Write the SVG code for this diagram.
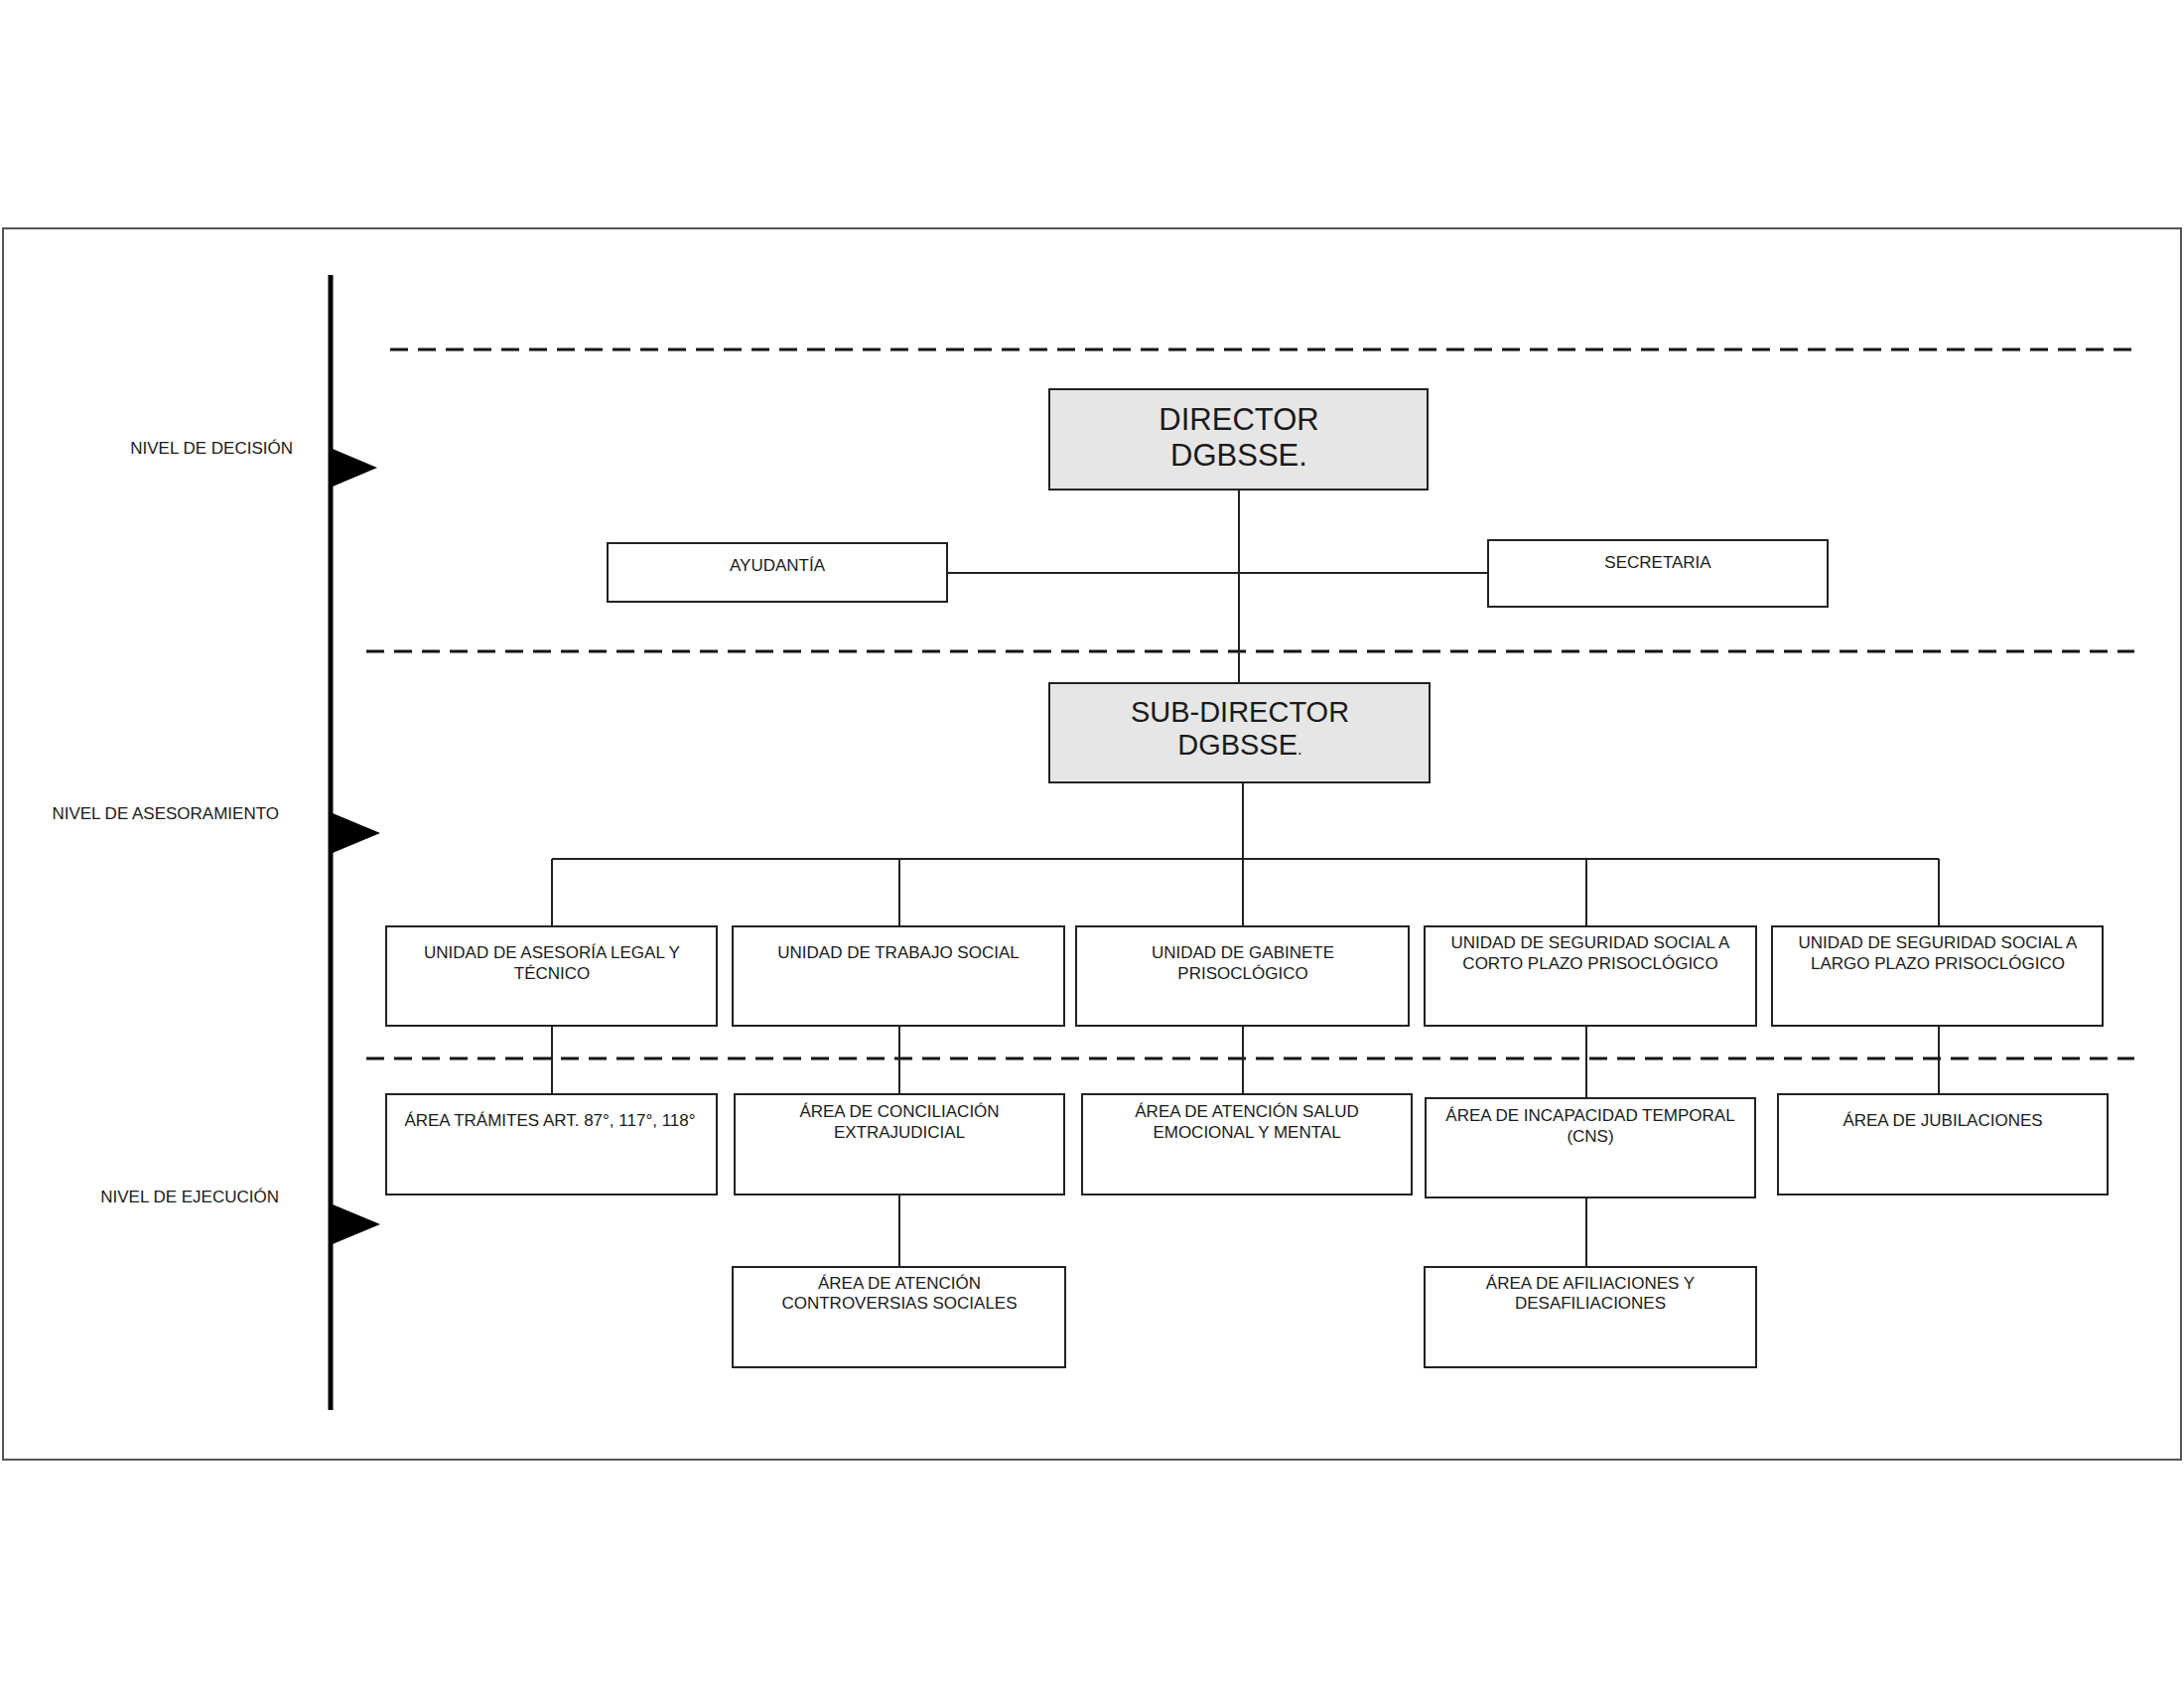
<svg xmlns="http://www.w3.org/2000/svg" width="2200" height="1700" viewBox="0 0 2200 1700">
<style>
  text { font-family: "Liberation Sans", Arial, sans-serif; fill: #1a1a1a; }
  .box { fill: #ffffff; stroke: #222; stroke-width: 2; }
  .head { fill: #e6e6e6; stroke: #222; stroke-width: 2; }
  .t { font-size: 17px; text-anchor: middle; }
  .lvl { font-size: 17px; text-anchor: end; }
  .big { font-size: 31px; text-anchor: middle; }
  .mid { font-size: 29px; text-anchor: middle; }
  .conn line { stroke: #222; stroke-width: 2; }
  .dash { stroke: #111; stroke-width: 3; stroke-dasharray: 18 10; }
  .flag { fill: #000; }
</style>
<rect x="0" y="0" width="2200" height="1700" fill="#ffffff"/>
<rect x="3" y="230" width="2194" height="1240" fill="none" stroke="#555" stroke-width="2"/>

<g id="levels">
  <line x1="333" y1="277" x2="333" y2="1420" stroke="#000" stroke-width="5"/>
  <polygon class="flag" points="335,452 380,471 335,490"/>
  <polygon class="flag" points="335,819 383,839 335,859"/>
  <polygon class="flag" points="335,1213 383,1233 335,1253"/>
  <text class="lvl" x="295" y="457">NIVEL DE DECISIÓN</text>
  <text class="lvl" x="281" y="825">NIVEL DE ASESORAMIENTO</text>
  <text class="lvl" x="281" y="1211">NIVEL DE EJECUCIÓN</text>
</g>

<g id="dividers">
  <line class="dash" x1="393" y1="352" x2="2150" y2="352"/>
  <line class="dash" x1="369" y1="656" x2="2150" y2="656"/>
  <line class="dash" x1="369" y1="1066" x2="2150" y2="1066"/>
</g>

<g id="connectors" class="conn">
  <line x1="1248" y1="493" x2="1248" y2="688"/>
  <line x1="954" y1="577" x2="1499" y2="577"/>
  <line x1="1252" y1="788" x2="1252" y2="865"/>
  <line x1="556" y1="865" x2="1953" y2="865"/>
  <line x1="556" y1="865" x2="556" y2="933"/>
  <line x1="906" y1="865" x2="906" y2="933"/>
  <line x1="1252" y1="865" x2="1252" y2="933"/>
  <line x1="1598" y1="865" x2="1598" y2="933"/>
  <line x1="1953" y1="865" x2="1953" y2="933"/>
  <line x1="556" y1="1033" x2="556" y2="1102"/>
  <line x1="906" y1="1033" x2="906" y2="1102"/>
  <line x1="1252" y1="1033" x2="1252" y2="1102"/>
  <line x1="1598" y1="1033" x2="1598" y2="1106"/>
  <line x1="1953" y1="1033" x2="1953" y2="1102"/>
  <line x1="906" y1="1203" x2="906" y2="1276"/>
  <line x1="1598" y1="1206" x2="1598" y2="1276"/>
</g>

<g id="director">
  <rect class="head" x="1057" y="392" width="381" height="101"/>
  <text class="big" x="1248" y="433">DIRECTOR</text>
  <text class="big" x="1248" y="469">DGBSSE.</text>
</g>
<g id="ayudantia">
  <rect class="box" x="612" y="547" width="342" height="59"/>
  <text class="t" x="783" y="575">AYUDANTÍA</text>
</g>
<g id="secretaria">
  <rect class="box" x="1499" y="544" width="342" height="67"/>
  <text class="t" x="1670" y="572">SECRETARIA</text>
</g>
<g id="subdirector">
  <rect class="head" x="1057" y="688" width="383" height="100"/>
  <text class="mid" x="1249" y="727">SUB-DIRECTOR</text>
  <text class="mid" x="1249" y="760">DGBSSE<tspan font-size="17">.</tspan></text>
</g>

<g id="u-asesoria">
  <rect class="box" x="389" y="933" width="333" height="100"/>
  <text class="t" x="556" y="965">UNIDAD DE ASESORÍA LEGAL Y</text>
  <text class="t" x="556" y="986">TÉCNICO</text>
</g>
<g id="u-trabajo">
  <rect class="box" x="738" y="933" width="334" height="100"/>
  <text class="t" x="905" y="965">UNIDAD DE TRABAJO SOCIAL</text>
</g>
<g id="u-gabinete">
  <rect class="box" x="1084" y="933" width="335" height="100"/>
  <text class="t" x="1252" y="965">UNIDAD DE GABINETE</text>
  <text class="t" x="1252" y="986">PRISOCLÓGICO</text>
</g>
<g id="u-corto">
  <rect class="box" x="1435" y="933" width="334" height="100"/>
  <text class="t" x="1602" y="955">UNIDAD DE SEGURIDAD SOCIAL A</text>
  <text class="t" x="1602" y="976">CORTO PLAZO PRISOCLÓGICO</text>
</g>
<g id="u-largo">
  <rect class="box" x="1785" y="933" width="333" height="100"/>
  <text class="t" x="1952" y="955">UNIDAD DE SEGURIDAD SOCIAL A</text>
  <text class="t" x="1952" y="976">LARGO PLAZO PRISOCLÓGICO</text>
</g>

<g id="a-tramites">
  <rect class="box" x="389" y="1102" width="333" height="101"/>
  <text class="t" x="554" y="1134">ÁREA TRÁMITES ART. 87°, 117°, 118°</text>
</g>
<g id="a-conciliacion">
  <rect class="box" x="740" y="1102" width="332" height="101"/>
  <text class="t" x="906" y="1125">ÁREA DE CONCILIACIÓN</text>
  <text class="t" x="906" y="1146">EXTRAJUDICIAL</text>
</g>
<g id="a-salud">
  <rect class="box" x="1090" y="1102" width="332" height="101"/>
  <text class="t" x="1256" y="1125">ÁREA DE ATENCIÓN SALUD</text>
  <text class="t" x="1256" y="1146">EMOCIONAL Y MENTAL</text>
</g>
<g id="a-incapacidad">
  <rect class="box" x="1436" y="1106" width="332" height="100"/>
  <text class="t" x="1602" y="1129">ÁREA DE INCAPACIDAD TEMPORAL</text>
  <text class="t" x="1602" y="1150">(CNS)</text>
</g>
<g id="a-jubilaciones">
  <rect class="box" x="1791" y="1102" width="332" height="101"/>
  <text class="t" x="1957" y="1134">ÁREA DE JUBILACIONES</text>
</g>

<g id="a-controversias">
  <rect class="box" x="738" y="1276" width="335" height="101"/>
  <text class="t" x="906" y="1298">ÁREA DE ATENCIÓN</text>
  <text class="t" x="906" y="1318">CONTROVERSIAS SOCIALES</text>
</g>
<g id="a-afiliaciones">
  <rect class="box" x="1435" y="1276" width="334" height="101"/>
  <text class="t" x="1602" y="1298">ÁREA DE AFILIACIONES Y</text>
  <text class="t" x="1602" y="1318">DESAFILIACIONES</text>
</g>
</svg>
